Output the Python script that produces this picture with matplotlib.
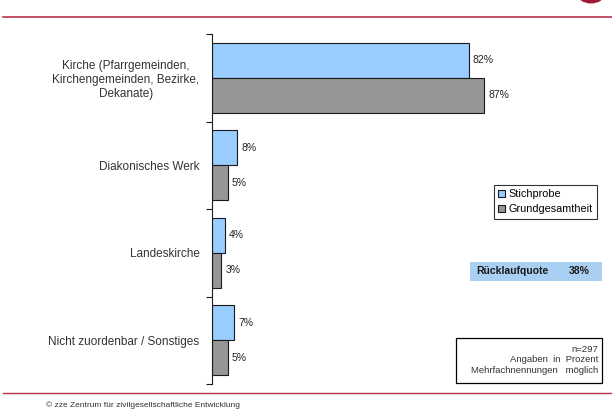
import matplotlib.pyplot as plt
from matplotlib.patches import Rectangle, Circle
from matplotlib.lines import Line2D

plt.rcParams['font.family'] = ['Liberation Sans', 'DejaVu Sans']

categories = ['Kirche (Pfarrgemeinden,\nKirchengemeinden, Bezirke,\nDekanate)',
              'Diakonisches Werk',
              'Landeskirche',
              'Nicht zuordenbar / Sonstiges']
stichprobe = [82, 8, 4, 7]
grundgesamtheit = [87, 5, 3, 5]
series_names = ['Stichprobe', 'Grundgesamtheit']
ruecklauf_label = 'Rücklaufquote'
ruecklauf_value = '38%'
note_lines = ['n=297', 'Angaben  in  Prozent', 'Mehrfachnennungen   möglich']
footer = '© zze Zentrum für zivilgesellschaftliche Entwicklung'

blue = '#99CCFF'
gray = '#969696'
edge = '#1a1a1a'
red = '#B8344C'

fig = plt.figure(figsize=(6.12, 4.12), dpi=100)
ax = fig.add_axes([212 / 612, 1 - 384 / 412, 388 / 612, 350 / 412])

pos = list(range(len(categories)))
h = 0.4
b1 = ax.barh([p - h / 2 for p in pos], stichprobe, height=h, color=blue,
             edgecolor=edge, linewidth=0.8, label=series_names[0])
b2 = ax.barh([p + h / 2 for p in pos], grundgesamtheit, height=h, color=gray,
             edgecolor=edge, linewidth=0.8, label=series_names[1])

for bars, vals in ((b1, stichprobe), (b2, grundgesamtheit)):
    for bar, v in zip(bars, vals):
        ax.annotate(f'{v}%', (bar.get_width(), bar.get_y() + bar.get_height() / 2),
                    xytext=(3, 0), textcoords='offset points', va='center',
                    ha='left', fontsize=7.5, color='#222222')

ax.set_xlim(0, 124)
ax.set_ylim(len(categories) - 0.5, -0.5)
ax.set_xticks([])
ax.set_yticks(pos, categories, fontsize=8.5, color='#333333', multialignment='center')
ax.tick_params(axis='y', which='major', length=0, pad=9)
ax.set_yticks([p - 0.5 for p in pos] + [len(categories) - 0.5], minor=True)
ax.tick_params(axis='y', which='minor', length=4, width=0.8, color=edge)
for s in ('top', 'right', 'bottom'):
    ax.spines[s].set_visible(False)
ax.spines['left'].set_color(edge)
ax.spines['left'].set_linewidth(0.8)

leg = ax.legend(loc='upper left', bbox_to_anchor=(494 / 612, 1 - 185 / 412),
                bbox_transform=fig.transFigure, fontsize=7.8, frameon=True,
                fancybox=False, edgecolor='black', handlelength=0.6,
                handleheight=0.6, handletextpad=0.3, borderpad=0.4,
                labelspacing=0.45, borderaxespad=0)
leg.get_frame().set_linewidth(0.8)

# Rücklaufquote box
fig.patches.append(Rectangle((470 / 612, 1 - 281 / 412), 132 / 612, 19 / 412,
                             transform=fig.transFigure, facecolor='#A9CFF2',
                             edgecolor='none'))
fig.text(476 / 612, 1 - 271.5 / 412, ruecklauf_label, fontsize=7.5,
         fontweight='bold', va='center', color='#1a1a1a')
fig.text(569 / 612, 1 - 271.5 / 412, ruecklauf_value, fontsize=7.5,
         fontweight='bold', va='center', color='#1a1a1a')

# note box
fig.patches.append(Rectangle((456 / 612, 1 - 383 / 412), 146 / 612, 45 / 412,
                             transform=fig.transFigure, facecolor='white',
                             edgecolor='black', linewidth=0.9))
fig.text(598 / 612, 1 - 360 / 412, '\n'.join(note_lines), fontsize=6.8,
         ha='right', va='center', color='#333333', linespacing=1.15)

# header / footer decoration
fig.add_artist(Line2D([3 / 612, 1], [1 - 16.5 / 412] * 2, color=red, lw=1.2,
                      transform=fig.transFigure))
fig.add_artist(Line2D([3 / 612, 1], [1 - 393 / 412] * 2, color=red, lw=1.0,
                      transform=fig.transFigure))
fig.patches.append(Circle((591 / 612, 1 + 6 / 412), 13 / 612,
                          transform=fig.transFigure, color='#A01838'))
fig.text(46 / 612, 1 - 405 / 412, footer, fontsize=6, va='center', color='#333333')

fig.savefig('out.png', dpi=100)
